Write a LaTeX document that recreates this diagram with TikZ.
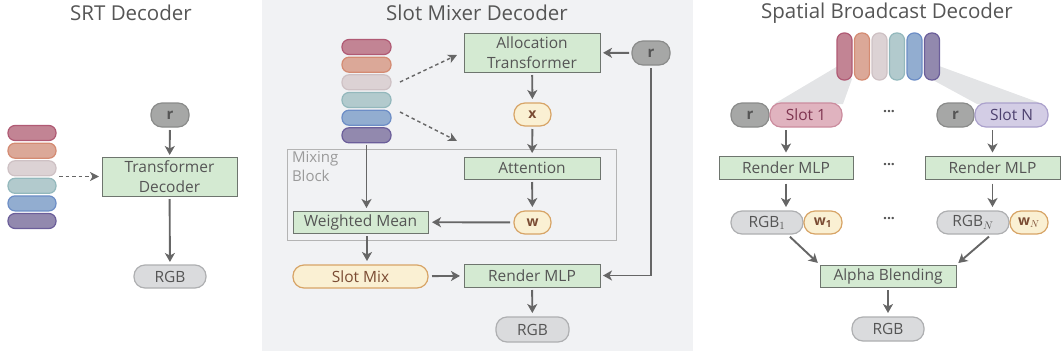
\documentclass[tikz,border=0pt]{standalone}
\usepackage{fontspec}
\setmainfont{Open Sans}
\usetikzlibrary{arrows.meta}
\definecolor{txt}{HTML}{555555}
\definecolor{panel}{HTML}{F1F2F4}
\definecolor{boxfill}{HTML}{D4EAD2}
\definecolor{boxdraw}{HTML}{6E756E}
\definecolor{arr}{HTML}{666666}
\definecolor{rfill}{HTML}{A6A7A6}
\definecolor{rdraw}{HTML}{8A8B8A}
\definecolor{rgbfill}{HTML}{DADBDD}
\definecolor{rgbdraw}{HTML}{AEAFB1}
\definecolor{yfill}{HTML}{FAF0D3}
\definecolor{ydraw}{HTML}{D7A466}
\definecolor{ytxt}{HTML}{7A4B33}
\definecolor{sAf}{HTML}{C28494}\definecolor{sAd}{HTML}{B05A74}
\definecolor{sBf}{HTML}{DBA898}\definecolor{sBd}{HTML}{D48B72}
\definecolor{sCf}{HTML}{DCD2D4}\definecolor{sCd}{HTML}{CEC1C4}
\definecolor{sDf}{HTML}{B2CACD}\definecolor{sDd}{HTML}{93B8BC}
\definecolor{sEf}{HTML}{92ADD0}\definecolor{sEd}{HTML}{6C8DC6}
\definecolor{sFf}{HTML}{9289AE}\definecolor{sFd}{HTML}{6B5E9A}
\definecolor{s1fill}{HTML}{E0B3BF}\definecolor{s1draw}{HTML}{CB8C9E}\definecolor{s1txt}{HTML}{7E3450}
\definecolor{sNfill}{HTML}{D3CDE5}\definecolor{sNdraw}{HTML}{ABA1CC}\definecolor{sNtxt}{HTML}{4D416F}
\definecolor{fanfill}{HTML}{E3E4E6}
\definecolor{mixdraw}{HTML}{B4B4B4}
\definecolor{mixtxt}{HTML}{9A9A9A}
\tikzset{
  every node/.style={inner sep=0pt, outer sep=0pt, font=\fontsize{15.5}{19.5}\selectfont, text=txt},
  gbox/.style={draw=boxdraw, fill=boxfill, line width=1pt, align=center},
  pillbase/.style={draw, line width=1.2pt, rounded corners=11pt},
  rpill/.style={pillbase, fill=rfill, draw=rdraw, minimum width=38pt, minimum height=24pt, font=\bfseries\fontsize{15}{17}\selectfont, text=txt},
  rgbpill/.style={pillbase, fill=rgbfill, draw=rgbdraw, minimum width=72pt, minimum height=23pt},
  ypill/.style={pillbase, fill=yfill, draw=ydraw, minimum height=23pt, text=ytxt},
  yb/.style={font=\bfseries\fontsize{14}{16}\selectfont},
  slotpill/.style={draw, line width=1.2pt, rounded corners=7pt, minimum width=48pt, minimum height=15pt},
  vslot/.style={draw, line width=1.2pt, rounded corners=7pt, minimum width=15pt, minimum height=47pt},
  arw/.style={draw=arr, line width=1.9pt, -{Stealth[length=9pt,width=10pt,inset=2.5pt]}},
  darw/.style={draw=arr, line width=1.4pt, dash pattern=on 3.5pt off 3pt, -{Stealth[length=9pt,width=9pt,inset=2.5pt]}},
  title/.style={font=\fontsize{20.5}{22}\selectfont, text=txt},
  dots/.style={font=\bfseries\fontsize{14}{16}\selectfont, text=txt}
}
\begin{document}
\begin{tikzpicture}[x=1pt,y=-1pt]
\useasboundingbox (0,0) rectangle (1061,354);
\fill[panel] (262,0) rectangle (693,351);

% ---------------- SRT Decoder
\node[title] (t1) at (131,13) {SRT Decoder};
\foreach \i/\yy/\c in {1/133/A,2/150.7/B,3/168.3/C,4/185.8/D,5/203.4/E,6/221/F}{
  \node[slotpill, fill=s\c f, draw=s\c d] (sa\i) at (32,\yy) {};
}
\coordinate (srtsrc) at (59,176.5);
\node[rpill] (r1) at (170,115) {r};
\node[gbox, minimum width=135pt, minimum height=39pt] (td) at (169.5,176.5) {Transformer\\Decoder};
\node[rgbpill] (rgb1a) at (170,276.5) {RGB};
\draw[darw, shorten >=3pt] (srtsrc) -- (td.west);
\draw[arw, shorten <=3pt, shorten >=2pt] (r1) -- (td);
\draw[arw, shorten <=3pt, shorten >=3pt] (td) -- (rgb1a);

% ---------------- Slot Mixer Decoder
\node[title] (t2) at (477,13) {Slot Mixer Decoder};
\foreach \i/\yy/\c in {1/47/A,2/64.7/B,3/82.3/C,4/100/D,5/117.7/E,6/135.3/F}{
  \node[slotpill, fill=s\c f, draw=s\c d, minimum width=49pt] (sb\i) at (366.5,\yy) {};
}
\draw[mixdraw, line width=1pt] (287,149) rectangle (616,240);
\node[anchor=north west, align=left, text=mixtxt, font=\fontsize{15}{19}\selectfont] (mixlbl) at (292,151) {Mixing\\Block};
\node[gbox, minimum width=136pt, minimum height=39pt] (alloc) at (532,52.5) {Allocation\\Transformer};
\node[rpill] (r2) at (651,53) {r};
\node[ypill, yb, minimum width=37pt] (xx) at (532.5,114.5) {x};
\node[gbox, minimum width=136pt, minimum height=22pt] (attn) at (532,168) {Attention};
\node[ypill, yb, minimum width=37pt] (ww) at (532.5,222.5) {w};
\node[gbox, minimum width=135pt, minimum height=22pt] (wm) at (360.5,222) {Weighted Mean};
\node[ypill, minimum width=135pt] (smix) at (360.5,276.5) {Slot Mix};
\node[gbox, minimum width=136pt, minimum height=23pt] (rmlp) at (532,275.5) {Render MLP};
\node[rgbpill, minimum width=73pt, minimum height=25pt] (rgb2) at (532.5,329.5) {RGB};
\coordinate (d1s) at (400,82);
\coordinate (d1e) at (457,55);
\coordinate (d2s) at (400,112);
\coordinate (d2e) at (457,141);
\draw[darw] (d1s) -- (d1e);
\draw[darw] (d2s) -- (d2e);
\draw[arw, shorten <=3pt, shorten >=3pt] (r2) -- (alloc);
\draw[arw, shorten <=3pt, shorten >=4pt] (alloc) -- (xx);
\draw[arw, shorten <=3pt, shorten >=4pt] (xx) -- (attn);
\draw[arw, shorten <=3pt, shorten >=4pt] (attn) -- (ww);
\draw[arw, shorten <=4pt, shorten >=4pt] (ww) -- (wm);
\draw[arw, shorten <=2pt, shorten >=3pt] (sb6.south) -- (wm.north -| sb6.south);
\draw[arw, shorten <=3pt, shorten >=4pt] ([xshift=6.5pt]wm.south) -- ([xshift=6.5pt]smix.north);
\draw[arw, shorten <=4pt, shorten >=4pt] (smix) -- (rmlp);
\draw[arw, shorten <=3pt, shorten >=3pt] (r2.south) |- (rmlp.east);
\draw[arw, shorten <=3pt, shorten >=4pt] (rmlp) -- (rgb2);

% ---------------- Spatial Broadcast Decoder
\node[title] (t3) at (887,13) {Spatial Broadcast Decoder};
\fill[fanfill] (838,66) -- (852,79) -- (843,104) -- (774,104) -- cycle;
\fill[fanfill] (939,66) -- (1043,104) -- (977,104) -- (931,79) -- cycle;
\foreach \i/\xx/\c in {1/844.5/A,2/862/B,3/879.5/C,4/897/D,5/914.5/E,6/932/F}{
  \node[vslot, fill=s\c f, draw=s\c d] (sc\i) at (\xx,56.5) {};
}
\node[rpill] (r3) at (750,115) {r};
\node[pillbase, fill=s1fill, draw=s1draw, text=s1txt, minimum width=72pt, minimum height=24pt] (slot1) at (806,115) {Slot 1};
\node[rpill, minimum width=37pt] (r4) at (955.5,115) {r};
\node[pillbase, fill=sNfill, draw=sNdraw, text=sNtxt, minimum width=73pt, minimum height=24pt] (slotN) at (1011.5,115) {Slot N};
\node[dots] (dt1) at (889,112) {...};
\node[gbox, minimum width=134pt, minimum height=23pt] (rm1) at (786,168) {Render MLP};
\node[gbox, minimum width=135pt, minimum height=23pt] (rmN) at (992.5,168) {Render MLP};
\node[dots] (dt2) at (889,165) {...};
\node[rgbpill] (rgbA) at (767,222.5) {RGB$_1$};
\node[ypill, yb, minimum width=38pt] (wA) at (823,222.5) {w$_{\mathbf 1}$};
\node[rgbpill] (rgbN) at (973,222.5) {RGB$_N$};
\node[ypill, yb, minimum width=38pt] (wN) at (1029,222.5) {w$_N$};
\node[dots] (dt3) at (889,219) {...};
\node[gbox, minimum width=136pt, minimum height=22pt] (ab) at (888,276) {Alpha Blending};
\node[rgbpill, minimum height=24pt] (rgb3) at (888,329) {RGB};
\draw[arw, shorten <=3pt, shorten >=4pt] (slot1.south -| rm1.north) -- (rm1.north);
\draw[arw, shorten <=3pt, shorten >=4pt] (rmN.north |- slotN.south) -- (rmN.north);
\draw[arw, shorten <=4pt, shorten >=4pt] (rm1.south) -- (rm1.south |- rgbA.north);
\draw[arw, shorten <=4pt, shorten >=4pt] (rmN.south) -- (rmN.south |- rgbN.north);
\draw[arw, shorten <=4pt, shorten >=3pt] ([xshift=20pt]rgbA.south) -- (ab.north west);
\draw[arw, shorten <=4pt, shorten >=3pt] ([xshift=19pt]rgbN.south) -- (ab.north east);
\draw[arw, shorten <=3pt, shorten >=4pt] (ab) -- (rgb3);
\end{tikzpicture}
\end{document}
